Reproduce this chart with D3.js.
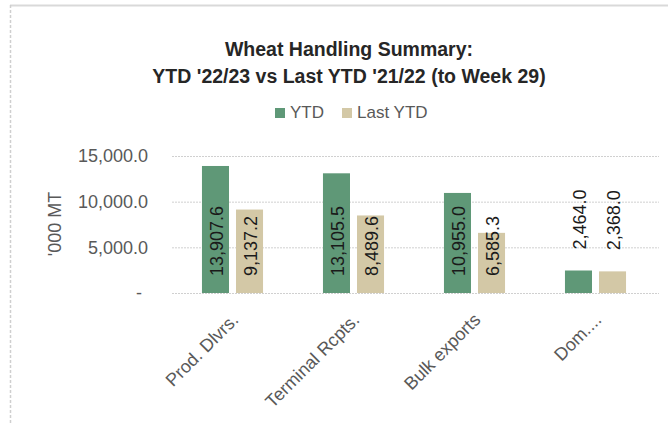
<!DOCTYPE html>
<html>
<head>
<meta charset="utf-8">
<script src="https://cdn.jsdelivr.net/npm/d3@7"></script>
<style>
  body { margin: 0; background: #fff; }
  text { font-family: "Liberation Sans", Arial, sans-serif; }
</style>
</head>
<body>
<div id="GraphHolder"></div>
<script>
// chart data
var categories = ["Prod. Dlvrs.", "Terminal Rcpts.", "Bulk exports", "Dom...."];
var seriesNames = ["YTD", "Last YTD"];
var ytdValues = [13907.6, 13105.5, 10955.0, 2464.0];
var lastYtdValues = [9137.2, 8489.6, 6585.3, 2368.0];
var yTicks = [0, 5000, 10000, 15000];
var titleLines = ["Wheat Handling Summary:", "YTD '22/23 vs Last YTD '21/22 (to Week 29)"];
var yTitle = "'000 MT";

var colors = ["#5f9877", "#d3c8a6"];

// set the dimensions and margins of the graph
var W = 668, H = 425;
var margin = {top: 156, right: 12, bottom: 132, left: 172},
    width = W - margin.left - margin.right,
    height = H - margin.top - margin.bottom;

var root = d3.select("#GraphHolder").append("svg")
    .attr("width", W)
    .attr("height", H);

// chart frame (only top and left edges show)
root.append("line")
    .attr("x1", 10).attr("x2", W).attr("y1", 5.5).attr("y2", 5.5)
    .attr("stroke", "#d9d9d9").attr("stroke-width", 2);
root.append("line")
    .attr("x1", 10.5).attr("x2", 10.5).attr("y1", 5).attr("y2", H)
    .attr("stroke", "#cfcfcf").attr("stroke-width", 1.5)
    .attr("stroke-dasharray", "3,2");

// title
root.selectAll(".title")
    .data(titleLines)
    .enter().append("text")
    .attr("class", "title")
    .attr("x", 349)
    .attr("y", function(d, i) { return 56 + i * 27; })
    .attr("text-anchor", "middle")
    .style("font-weight", "bold")
    .style("font-size", "19.5px")
    .style("fill", "#262626")
    .text(function(d) { return d; });

// legend
var legendX = [275, 342];
var legend = root.selectAll(".legend")
    .data(seriesNames)
    .enter().append("g")
    .attr("class", "legend")
    .attr("transform", function(d, i) { return "translate(" + legendX[i] + ",108)"; });
legend.append("rect")
    .attr("width", 10).attr("height", 10)
    .attr("fill", function(d, i) { return colors[i]; });
legend.append("text")
    .attr("x", 15).attr("y", 10)
    .style("font-size", "17px")
    .style("fill", "#595959")
    .text(function(d) { return d; });

var svg = root.append("g")
    .attr("transform", "translate(" + margin.left + "," + margin.top + ")");

// scales
var x0 = d3.scaleBand()
    .domain(categories)
    .range([0, width])
    .padding(0);
var x1 = d3.scaleBand()
    .domain(seriesNames)
    .range([0, x0.bandwidth()])
    .paddingInner(0.206)
    .paddingOuter(0.88);
var y = d3.scaleLinear()
    .domain([0, 15000])
    .range([height, 0]);

// gridlines + y tick labels
var yAxis = d3.axisLeft(y)
    .tickValues(yTicks)
    .tickSize(-width - 3)
    .tickPadding(24)
    .tickFormat(function(d) { return d === 0 ? "-" : d3.format(",.1f")(d); });
var yg = svg.append("g")
    .attr("class", "yaxis")
    .call(yAxis);
yg.select(".domain").remove();
yg.selectAll("line")
    .attr("stroke", "#d0d0d0")
    .attr("stroke-dasharray", "2,1");
yg.selectAll("text")
    .style("font-size", "18px")
    .style("fill", "#595959")
    .style("font-family", "'Liberation Sans', Arial, sans-serif")
    .attr("dx", function(d) { return d === 0 ? -6 : 0; });

// y axis title
root.append("text")
    .attr("transform", "translate(61,224) rotate(-90)")
    .attr("text-anchor", "middle")
    .style("font-size", "18px")
    .style("fill", "#595959")
    .text(yTitle);

// x category labels
svg.selectAll(".xlabel")
    .data(categories)
    .enter().append("text")
    .attr("class", "xlabel")
    .attr("text-anchor", "end")
    .attr("transform", function(d) {
        return "translate(" + (x0(d) + x0.bandwidth() / 2 + 7) + "," + (height + 28) + ") rotate(-45)";
    })
    .style("font-size", "18px")
    .style("fill", "#595959")
    .text(function(d) { return d; });

// bars
var rows = categories.map(function(c, i) {
    return {cat: c, vals: [
        {key: seriesNames[0], value: ytdValues[i], idx: 0},
        {key: seriesNames[1], value: lastYtdValues[i], idx: 1}
    ]};
});

var groups = svg.selectAll(".grp")
    .data(rows)
    .enter().append("g")
    .attr("class", "grp")
    .attr("transform", function(d) { return "translate(" + x0(d.cat) + ",0)"; });

groups.selectAll(".bar")
    .data(function(d) { return d.vals; })
    .enter().append("rect")
    .attr("class", "bar")
    .attr("x", function(d) { return x1(d.key); })
    .attr("width", x1.bandwidth())
    .attr("y", function(d) { return y(d.value); })
    .attr("height", function(d) { return height - y(d.value); })
    .attr("fill", function(d) { return colors[d.idx]; });

// data labels, rotated; inside base unless the bar is very short
groups.selectAll(".lbl")
    .data(function(d) { return d.vals; })
    .enter().append("text")
    .attr("class", "lbl")
    .attr("text-anchor", "start")
    .attr("dy", "0.35em")
    .attr("transform", function(d) {
        var cx = x1(d.key) + x1.bandwidth() / 2 + 1;
        var tall = height - y(d.value) > 35;
        var yy = tall ? height - 17 : y(d.value) - 21;
        return "translate(" + cx + "," + yy + ") rotate(-90)";
    })
    .style("font-size", "18px")
    .style("fill", "#1a1a1a")
    .text(function(d) { return d3.format(",.1f")(d.value); });
</script>
</body>
</html>
